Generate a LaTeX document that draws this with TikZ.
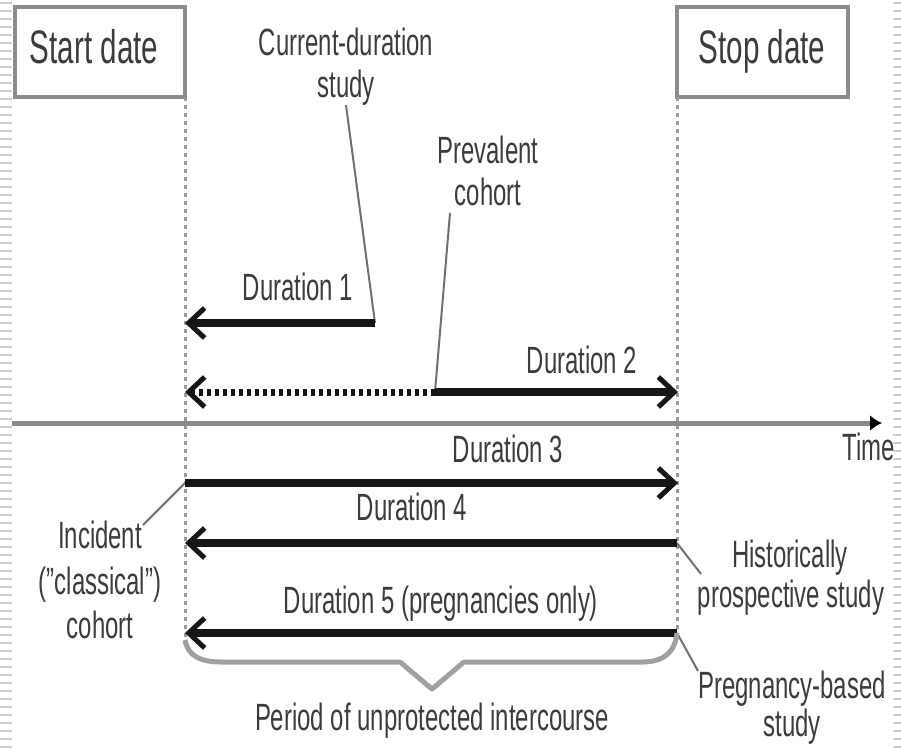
\documentclass[tikz,border=0pt]{standalone}
\usepackage{fontspec}
\setmainfont{Liberation Sans}[FakeStretch=0.63]
\usetikzlibrary{arrows.meta}
\definecolor{txt}{HTML}{3C3C3C}
\definecolor{boxgray}{HTML}{8C8C8C}
\definecolor{axisgray}{HTML}{8A8A8A}
\definecolor{leadgray}{HTML}{707070}
\definecolor{bracegray}{HTML}{A0A0A0}
\definecolor{dotgray}{HTML}{9A9A9A}
\definecolor{edgegray}{HTML}{D0D0D0}
\definecolor{arrowblack}{HTML}{161616}
\tikzset{
  durtip/.tip={Straight Barb[length=16pt 0 0,width=30pt 0 0,line width=5pt 0 0]},
  lbl/.style={font=\fontsize{38}{42}\selectfont, text=txt, inner sep=0pt, anchor=base},
  biglbl/.style={lbl, font=\fontsize{47}{52}\selectfont},
  datebox/.style={draw=boxgray, line width=4pt, inner sep=0pt, fill=white},
  durline/.style={line width=8pt, draw=arrowblack},
  durdots/.style={line width=7pt, draw=arrowblack, dash pattern=on 4pt off 4pt},
  guide/.style={line width=3pt, draw=dotgray, dash pattern=on 4pt off 4pt},
  leader/.style={line width=2pt, draw=leadgray},
  axisline/.style={line width=5pt, draw=axisgray},
  bracestyle/.style={line width=5pt, draw=bracegray, line join=round},
  edgemark/.style={line width=2pt, draw=edgegray}
}
\begin{document}
\begin{tikzpicture}[x=1pt,y=-1pt]
\useasboundingbox (0,0) rectangle (901,748);
% edge marks
\foreach \k in {0,...,93} {
  \draw[edgemark] (0,{3+8*\k}) -- (12,{3+8*\k});
  \draw[edgemark] (893,{3+8*\k}) -- (901,{3+8*\k});
}
% coordinates
\coordinate (axs) at (12,423);
\coordinate (axe) at (882,423);
\coordinate (lt) at (185,97);
\coordinate (lb) at (185,640);
\coordinate (rt) at (677,97);
\coordinate (rb) at (677,633);
\coordinate (d1s) at (375,323);
\coordinate (d1e) at (185,323);
\coordinate (d2m) at (435,392);
\coordinate (d2l) at (185,392);
\coordinate (d2r) at (678,392);
\coordinate (d3s) at (185,483);
\coordinate (d3e) at (678,483);
\coordinate (d4s) at (677,543);
\coordinate (d4e) at (185,543);
\coordinate (d5s) at (677,633);
\coordinate (d5e) at (185,633);
\coordinate (pcl) at (450,213);
\coordinate (incl) at (143,525);
\coordinate (hisl) at (701,574);
\coordinate (pbl) at (698,671);
% date boxes
\node[datebox, minimum width=170pt, minimum height=90pt] (startbox) at (100,52) {};
\node[datebox, minimum width=171pt, minimum height=90pt] (stopbox) at (762.5,52) {};
\node[biglbl] (starttxt) at (94,63) {Start date};
\node[biglbl] (stoptxt) at (762,63) {Stop date};
% guides
\draw[guide] (lt) -- (lb);
\draw[guide] (rt) -- (rb);
% time axis
\draw[axisline, -{Latex[length=12pt 0 0,width=16pt 0 0,color=black]}] (axs) -- (axe);
\node[lbl] (time) at (869,460) {Time};
% labels
\node[lbl] (cds1) at (346,55) {Current-duration};
\node[lbl] (cds2) at (346,97) {study};
\node[lbl] (pc1) at (488,163) {Prevalent};
\node[lbl] (pc2) at (488,205) {cohort};
\node[lbl] (dl1) at (298,300) {Duration 1};
\node[lbl] (dl2) at (582,373) {Duration 2};
\node[lbl] (dl3) at (508,462) {Duration 3};
\node[lbl] (dl4) at (412,520) {Duration 4};
\node[lbl] (dl5) at (441,613) {Duration 5 (pregnancies only)};
\node[lbl] (inc1) at (100,548) {Incident};
\node[lbl] (inc2) at (100,594) {("classical")};
\node[lbl] (inc3) at (100,638) {cohort};
\node[lbl] (his1) at (790,567) {Historically};
\node[lbl] (his2) at (791,607) {prospective study};
\node[lbl] (pb1) at (792,698) {Pregnancy-based};
\node[lbl] (pb2) at (792,736) {study};
\node[lbl] (period) at (432,730) {Period of unprotected intercourse};
% leaders
\draw[leader] (cds2.south) -- (d1s);
\draw[leader] (pcl) -- (d2m);
\draw[leader] (incl) -- (d3s);
\draw[leader] (d4s) -- (hisl);
\draw[leader] (d5s) -- (pbl);
% duration arrows
\draw[durline, -durtip] (d1s) -- (d1e);
\draw[durdots, -durtip] (d2m) -- (d2l);
\draw[durline, -durtip] (d2m) -- (d2r);
\draw[durline, -durtip] (d3s) -- (d3e);
\draw[durline, -durtip] (d4s) -- (d4e);
\draw[durline, -durtip] (d5s) -- (d5e);
% brace
\draw[bracestyle] (lb) .. controls (188,656) and (200,662) .. (222,662)
  -- (400,662) -- (432,689) -- (464,662) -- (642,662)
  .. controls (664,662) and (675,652) .. (rb);
\end{tikzpicture}
\end{document}
